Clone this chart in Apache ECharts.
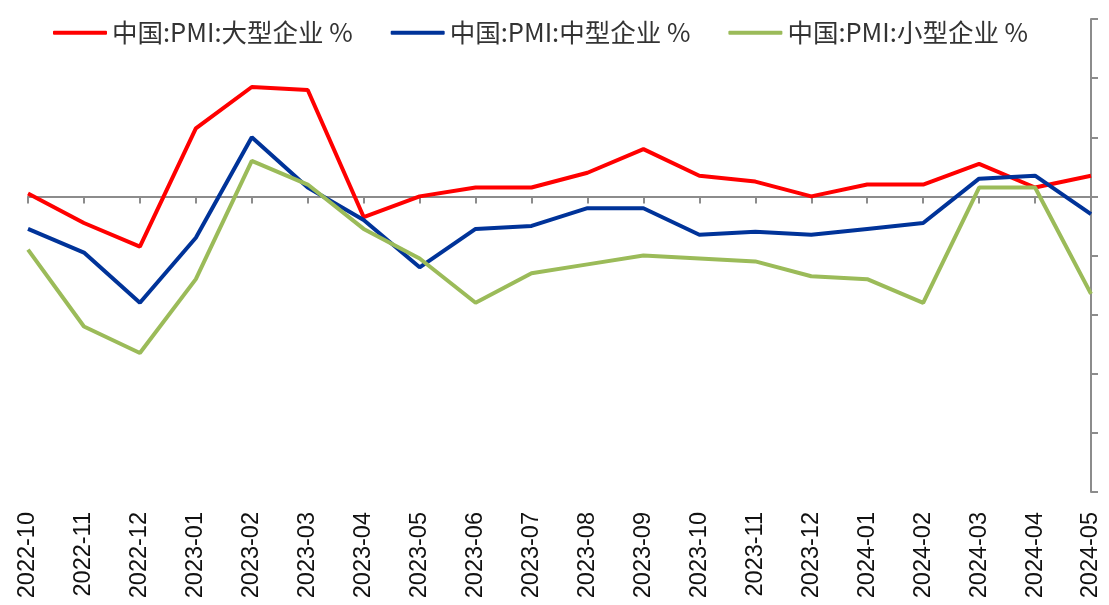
<!DOCTYPE html>
<html>
<head>
<meta charset="utf-8">
<script src="https://cdn.jsdelivr.net/npm/echarts@6/dist/echarts.min.js"></script>
<style>
  html, body { margin: 0; padding: 0; background: #fff; }
  #chart { width: 1109px; height: 605px; }
</style>
</head>
<body>
<div id="chart"></div>
<script>
// 月份
const months = [
  '2022-10', '2022-11', '2022-12', '2023-01', '2023-02', '2023-03', '2023-04',
  '2023-05', '2023-06', '2023-07', '2023-08', '2023-09', '2023-10', '2023-11',
  '2023-12', '2024-01', '2024-02', '2024-03', '2024-04', '2024-05'
]
// 大型企业 PMI
const largePmi = [50.1, 49.1, 48.3, 52.3, 53.7, 53.6, 49.3, 50.0, 50.3, 50.3,
  50.8, 51.6, 50.7, 50.5, 50.0, 50.4, 50.4, 51.1, 50.3, 50.7]
// 中型企业 PMI
const mediumPmi = [48.9, 48.1, 46.4, 48.6, 52.0, 50.3, 49.2, 47.6, 48.9, 49.0,
  49.6, 49.6, 48.7, 48.8, 48.7, 48.9, 49.1, 50.6, 50.7, 49.4]
// 小型企业 PMI
const smallPmi = [48.2, 45.6, 44.7, 47.2, 51.2, 50.4, 48.9, 47.9, 46.4, 47.4,
  47.7, 48.0, 47.9, 47.8, 47.3, 47.2, 46.4, 50.3, 50.3, 46.7]

const seriesNames = ['中国:PMI:大型企业 %', '中国:PMI:中型企业 %', '中国:PMI:小型企业 %']
const seriesColors = ['#ff0000', '#003399', '#9bbb59']

const chart = echarts.init(document.getElementById('chart'))

const gray = '#8c8c8c'
const mkLine = (i, data) => ({
  name: seriesNames[i],
  type: 'line',
  data: data,
  symbol: 'none',
  xAxisIndex: 0,
  yAxisIndex: 0,
  lineStyle: { color: seriesColors[i], width: 4 },
  itemStyle: { color: seriesColors[i] },
  z: 3
})

chart.setOption({
  animation: false,
  backgroundColor: '#fff',
  legend: {
    left: 53,
    top: 20,
    padding: 0,
    icon: 'roundRect',
    itemWidth: 54,
    itemHeight: 4,
    itemGap: 38,
    textStyle: { fontSize: 25.5, color: '#333', fontFamily: 'Noto Sans CJK SC' },
    data: seriesNames
  },
  grid: [
    { left: 28, right: 18, top: 19, bottom: 113 },
    // 50 线所在的轴（只画线和刻度）
    { left: 28, right: 18, top: 19, bottom: 408.6 }
  ],
  xAxis: [
    {
      type: 'category',
      gridIndex: 0,
      data: months,
      boundaryGap: false,
      axisLine: { show: false },
      axisTick: { show: false },
      axisLabel: {
        rotate: 90,
        margin: 20,
        fontSize: 23.5,
        color: '#111',
        fontFamily: 'Liberation Sans',
        interval: 0
      },
      splitLine: { show: false }
    },
    {
      type: 'category',
      gridIndex: 1,
      data: months,
      boundaryGap: false,
      axisLine: { show: true, lineStyle: { color: gray, width: 2 } },
      axisTick: { show: true, length: 7, interval: 0, lineStyle: { color: gray, width: 2 } },
      axisLabel: { show: false },
      splitLine: { show: false }
    }
  ],
  yAxis: [
    {
      type: 'value',
      gridIndex: 0,
      position: 'right',
      min: 40,
      max: 56,
      interval: 2,
      axisLine: { show: true, lineStyle: { color: gray, width: 2 } },
      axisTick: { show: true, length: 7, lineStyle: { color: gray, width: 2 } },
      axisLabel: { show: false },
      splitLine: { show: false }
    },
    {
      type: 'value',
      gridIndex: 1,
      show: false
    }
  ],
  series: [
    mkLine(0, largePmi),
    mkLine(1, mediumPmi),
    mkLine(2, smallPmi)
  ]
})

window.addEventListener('resize', () => chart.resize())
</script>
</body>
</html>
